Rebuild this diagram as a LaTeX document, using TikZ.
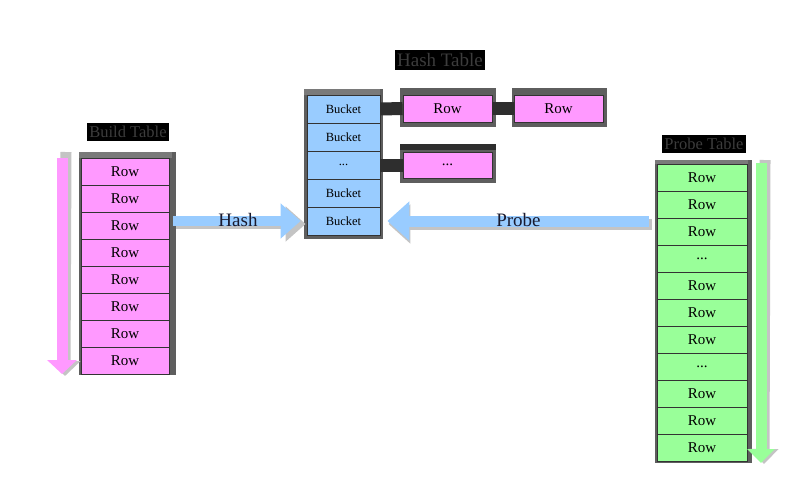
\documentclass[tikz,border=0pt]{standalone}
\usepackage{fontspec}
\setmainfont{Liberation Serif}
\newfontfamily\tnr{Liberation Serif}
\usetikzlibrary{arrows.meta,calc}
\definecolor{pinkc}{HTML}{FF99FF}
\definecolor{bluec}{HTML}{99CCFF}
\definecolor{greenc}{HTML}{99FF99}
\definecolor{edgec}{HTML}{333333}
\definecolor{framec}{HTML}{5E5E5E}
\definecolor{frametop}{HTML}{7A7A7A}
\definecolor{ashadow}{HTML}{C4C4C4}
\definecolor{linkc}{HTML}{2E2E2E}
\definecolor{titletext}{HTML}{3C3C3C}
\definecolor{labeltext}{HTML}{1A1A2E}
\newcommand\mydots{...}
\tikzset{
  cell/.style={draw=edgec, line width=0.8pt, inner sep=0pt, font=\tnr\fontsize{15}{15}\selectfont},
  brow/.style={cell, fill=pinkc, minimum width=88pt, minimum height=27pt},
  prow/.style={cell, fill=greenc, minimum width=90pt, minimum height=27pt},
  bucket/.style={cell, fill=bluec, minimum width=73pt, minimum height=28pt, font=\tnr\fontsize{12.5}{12.5}\selectfont},
  hrow/.style={cell, fill=pinkc, minimum width=89pt, minimum height=27pt},
  tabletitle/.style={fill=black, text=titletext, inner xsep=2pt, inner ysep=3pt},
  link/.style={draw=linkc, line width=13pt},
  arrlabel/.style={font=\tnr\fontsize{19}{19}\selectfont, inner sep=0pt, text=labeltext}
}
\begin{document}
\begin{tikzpicture}[x=1pt,y=-1pt]
\useasboundingbox (0,0) rectangle (805,493);
\fill[white] (0,0) rectangle (805,493);

% ---------- titles ----------
\node[tabletitle, font=\tnr\fontsize{19}{19}\selectfont] (tHash) at (440,60) {Hash Table};
\node[tabletitle, font=\tnr\fontsize{16.5}{16.5}\selectfont] (tBuild) at (128,132) {Build Table};
\node[tabletitle, font=\tnr\fontsize{16.5}{16.5}\selectfont] (tProbe) at (704,144) {Probe Table};

% ---------- frames (shadows) ----------
\fill[framec] (79,152) rectangle (176,375);
\fill[frametop] (79,152) rectangle (172,158);
\fill[framec] (304,89) rectangle (383,239);
\fill[frametop] (304,89) rectangle (380,95);
\fill[framec] (400,88) rectangle (496,127);
\fill[framec] (512,88) rectangle (607,127);
\fill[linkc] (400,144) rectangle (496,152);
\fill[framec] (400,150) rectangle (496,183);
\fill[framec] (655,160) rectangle (752,463);
\fill[frametop] (655,160) rectangle (748,164);

% ---------- build table ----------
\foreach \i in {1,...,8}
  \node[brow] (br\i) at (125,{144.5+27*\i}) {Row};

% ---------- probe table ----------
\foreach \t [count=\i] in {Row,Row,Row,\mydots,Row,Row,Row,\mydots,Row,Row,Row}
  \node[prow] (pr\i) at (702,{150.5+27*\i}) {\t};

% ---------- hash table ----------
\foreach \t [count=\i] in {Bucket,Bucket,\mydots,Bucket,Bucket}
  \node[bucket] (bk\i) at (343.5,{81+28*\i}) {\t};
\node[hrow] (hr1) at (447.5,108.5) {Row};
\node[hrow] (hr2) at (558.5,108.5) {Row};
\node[hrow, minimum height=26pt] (hr3) at (447.5,165) {...};

% links
\draw[link] (bk1.east) -- (hr1.west);
\draw[link] (hr1.east) -- (hr2.west);
\draw[link] (bk3.east) -- (hr3.west);

% ---------- vertical arrows ----------
\coordinate (pinkTop) at (62,152);
\coordinate (pinkEnd) at (62,374);
\coordinate (greenTop) at (761,160);
\coordinate (greenEnd) at (761,463);
\draw[ashadow, line width=11pt, -{Triangle[length=15pt,width=30pt]}]
  ($(pinkTop)+(4,0)$) -- ($(pinkEnd)+(3,2)$);
\draw[pinkc, line width=11pt, -{Triangle[length=14pt,width=29pt]}]
  ($(pinkTop)+(0,6)$) -- (pinkEnd);
\draw[ashadow, line width=11pt, -{Triangle[length=15pt,width=28pt]}]
  ($(greenTop)+(4,0)$) -- ($(greenEnd)+(3,1)$);
\draw[greenc, line width=11pt, -{Triangle[length=14pt,width=27pt]}]
  ($(greenTop)+(0,3)$) -- (greenEnd);

% ---------- hash / probe arrows ----------
\coordinate (hashStart) at (br3.east |- bk5.west);
\coordinate (probeStart) at (pr3.west |- bk5.east);
\draw[ashadow, line width=10pt, shorten <=4pt, shorten >=4pt, -{Triangle[length=20pt,width=34pt]}]
  ($(hashStart)+(3,3)$) -- ($(bk5.west)+(3,3)$);
\draw[bluec, line width=10pt, shorten <=4pt, shorten >=6pt, -{Triangle[length=20pt,width=34pt]}]
  (hashStart) -- (bk5.west) node[arrlabel, midway, yshift=1pt] (lHash) {Hash};
\draw[ashadow, line width=11pt, shorten <=8pt, shorten >=5pt, -{Triangle[length=22pt,width=38pt]}]
  ($(probeStart)+(3,3)$) -- ($(bk5.east)+(3,3)$);
\draw[bluec, line width=11pt, shorten <=8pt, shorten >=7pt, -{Triangle[length=22pt,width=38pt]}]
  (probeStart) -- (bk5.east) node[arrlabel, midway, yshift=1pt] (lProbe) {Probe};
\end{tikzpicture}
\end{document}
